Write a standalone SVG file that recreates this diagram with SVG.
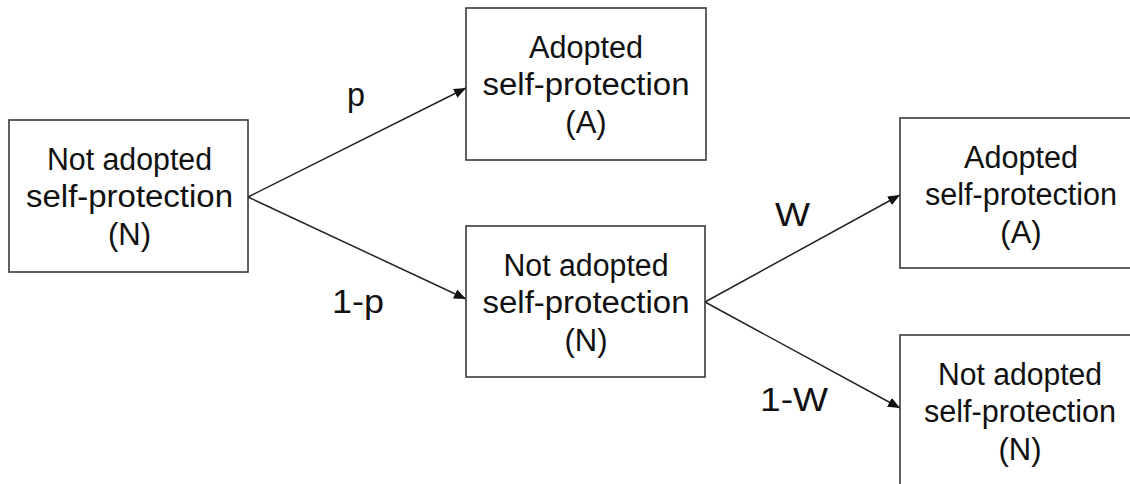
<svg xmlns="http://www.w3.org/2000/svg" width="1130" height="484" viewBox="0 0 1130 484">
<style>
.box{fill:#fff;stroke:#3a3a3a;stroke-width:1.6}
.t{font-family:"Liberation Sans",Arial,sans-serif;font-size:31px;fill:#111;text-anchor:middle}
.lbl{font-family:"Liberation Sans",Arial,sans-serif;font-size:34px;fill:#111}
.edge{stroke:#222;stroke-width:1.5;fill:none;marker-end:url(#arr)}
</style>
<defs>
<marker id="arr" viewBox="0 0 12 10" refX="12" refY="5" markerWidth="12" markerHeight="10" markerUnits="userSpaceOnUse" orient="auto">
<path d="M0,0 L12,5 L0,10 Z" fill="#111"/>
</marker>
</defs>
<rect width="1130" height="484" fill="#fff"/>
<g id="connectors">
<line class="edge" x1="248" y1="197" x2="466" y2="88"/>
<line class="edge" x1="248" y1="197" x2="466" y2="299"/>
<line class="edge" x1="705" y1="302" x2="900" y2="195"/>
<line class="edge" x1="705" y1="302" x2="900" y2="408"/>
<text class="lbl" x="347" y="106" textLength="18" lengthAdjust="spacingAndGlyphs">p</text>
<text class="lbl" x="332" y="313" textLength="52" lengthAdjust="spacingAndGlyphs">1-p</text>
<text class="lbl" x="775" y="226" textLength="35" lengthAdjust="spacingAndGlyphs">W</text>
<text class="lbl" x="760" y="411" textLength="68" lengthAdjust="spacingAndGlyphs">1-W</text>
</g>
<g id="n1">
<rect class="box" x="9" y="120" width="239" height="152"/>
<text class="t" x="129.5" y="170" textLength="165" lengthAdjust="spacingAndGlyphs">Not adopted</text>
<text class="t" x="129.5" y="207" textLength="207" lengthAdjust="spacingAndGlyphs">self-protection</text>
<text class="t" x="129.5" y="245">(N)</text>
</g>
<g id="n2">
<rect class="box" x="466" y="8" width="240" height="152"/>
<text class="t" x="586" y="58" textLength="114" lengthAdjust="spacingAndGlyphs">Adopted</text>
<text class="t" x="586" y="95" textLength="207" lengthAdjust="spacingAndGlyphs">self-protection</text>
<text class="t" x="586" y="133">(A)</text>
</g>
<g id="n3">
<rect class="box" x="466" y="226" width="239" height="151"/>
<text class="t" x="586" y="276" textLength="165" lengthAdjust="spacingAndGlyphs">Not adopted</text>
<text class="t" x="586" y="313" textLength="207" lengthAdjust="spacingAndGlyphs">self-protection</text>
<text class="t" x="586" y="351">(N)</text>
</g>
<g id="n4">
<rect class="box" x="900" y="118" width="242" height="150"/>
<text class="t" x="1021" y="168" textLength="114" lengthAdjust="spacingAndGlyphs">Adopted</text>
<text class="t" x="1021" y="205" textLength="192" lengthAdjust="spacingAndGlyphs">self-protection</text>
<text class="t" x="1021" y="243">(A)</text>
</g>
<g id="n5">
<rect class="box" x="900" y="335" width="242" height="152"/>
<text class="t" x="1020" y="385" textLength="164" lengthAdjust="spacingAndGlyphs">Not adopted</text>
<text class="t" x="1020" y="422" textLength="192" lengthAdjust="spacingAndGlyphs">self-protection</text>
<text class="t" x="1020" y="460">(N)</text>
</g>
</svg>
